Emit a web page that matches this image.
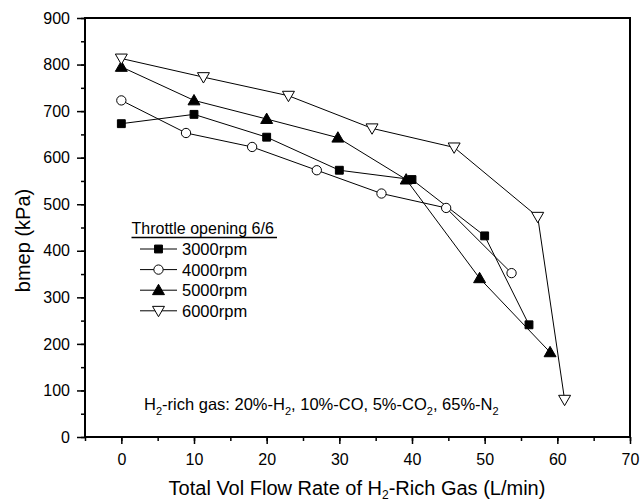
<!DOCTYPE html>
<html>
<head>
<meta charset="utf-8">
<script src="https://cdn.jsdelivr.net/npm/d3@7"></script>
<style>
  body { margin: 0; background: #fff; }
  svg text { font-family: "Liberation Sans", Arial, sans-serif; fill: #000; }
</style>
</head>
<body>
<svg id="chart" width="641" height="502"></svg>
<script>
const xTicks = [0, 10, 20, 30, 40, 50, 60, 70];
const yTicks = [0, 100, 200, 300, 400, 500, 600, 700, 800, 900];

const seriesNames = ["3000rpm", "4000rpm", "5000rpm", "6000rpm"];
const x3000 = [0, 10, 20, 30, 40, 50, 56.1];
const y3000 = [673, 693, 644, 573, 553, 432, 241];
const x4000 = [0, 8.9, 18, 26.9, 35.8, 44.7, 53.7];
const y4000 = [723, 653, 623, 573, 523, 492, 352];
const x5000 = [0, 10, 20, 29.8, 39.2, 49.3, 59];
const y5000 = [795, 723, 683, 643, 553, 341, 182];
const x6000 = [0, 11.3, 23, 34.5, 45.8, 57.3, 61];
const y6000 = [813, 773, 733, 663, 622, 473, 80];

const shapes = ["square", "circle", "triangle", "triangleDown"];

const d3s = window.d3;
const svg = d3s.select("#chart");
const W = 641, H = 502;
const margin = { top: 18, right: 11, bottom: 65, left: 85 };

const x = d3s.scaleLinear().domain([-5, 70]).range([margin.left, W - margin.right]);
const y = d3s.scaleLinear().domain([0, 900]).range([H - margin.bottom, margin.top]);

// minor ticks
svg.append("g")
  .attr("transform", `translate(0,${H - margin.bottom})`)
  .call(d3s.axisBottom(x).tickValues(d3s.range(-5, 71, 5)).tickSize(4).tickFormat(""))
  .call(g => g.select(".domain").remove());
svg.append("g")
  .attr("transform", `translate(${margin.left},0)`)
  .call(d3s.axisLeft(y).tickValues(d3s.range(0, 901, 50)).tickSize(4).tickFormat(""))
  .call(g => g.select(".domain").remove());

// major ticks
svg.append("g")
  .attr("transform", `translate(0,${H - margin.bottom})`)
  .call(d3s.axisBottom(x).tickValues(xTicks).tickSize(7).tickPadding(10))
  .call(g => g.select(".domain").remove())
  .call(g => g.selectAll("text").attr("font-size", 16));
svg.append("g")
  .attr("transform", `translate(${margin.left},0)`)
  .call(d3s.axisLeft(y).tickValues(yTicks).tickSize(8).tickPadding(7))
  .call(g => g.select(".domain").remove())
  .call(g => g.selectAll("text").attr("font-size", 16));

svg.selectAll(".tick line").attr("stroke", "#000").attr("stroke-width", 1.5);
svg.selectAll("g").attr("font-family", null);

// frame
svg.append("rect")
  .attr("x", margin.left).attr("y", margin.top)
  .attr("width", W - margin.left - margin.right)
  .attr("height", H - margin.top - margin.bottom)
  .attr("fill", "none").attr("stroke", "#000").attr("stroke-width", 2);

const symbolFor = {
  square: d3s.symbol().type(d3s.symbolSquare).size(62),
  circle: d3s.symbol().type(d3s.symbolCircle).size(68),
  triangle: d3s.symbol().type(d3s.symbolTriangle).size(62),
  triangleDown: d3s.symbol().type(d3s.symbolTriangle).size(62)
};
const filled = { square: true, circle: false, triangle: true, triangleDown: false };

function drawMarker(g, shape, cx, cy) {
  const p = g.append("path")
    .attr("d", symbolFor[shape]())
    .attr("fill", filled[shape] ? "#000" : "#fff")
    .attr("stroke", "#000")
    .attr("stroke-width", 1);
  const rot = shape === "triangleDown" ? " rotate(180)" : "";
  const dy = shape === "triangle" ? 1 : (shape === "triangleDown" ? -1 : 0);
  p.attr("transform", `translate(${cx},${cy + dy})${rot}`);
}

const allX = [x3000, x4000, x5000, x6000];
const allY = [y3000, y4000, y5000, y6000];
const line = d3s.line().x(d => x(d[0])).y(d => y(d[1]));

const gLines = svg.append("g");
allX.forEach((xs, i) => {
  const pts = xs.map((v, j) => [v, allY[i][j]]);
  gLines.append("path")
    .attr("d", line(pts))
    .attr("fill", "none")
    .attr("stroke", "#000")
    .attr("stroke-width", 1);
});
const gMarks = svg.append("g");
allX.forEach((xs, i) => {
  xs.forEach((v, j) => drawMarker(gMarks, shapes[i], x(v), y(allY[i][j])));
});

// legend
const lg = svg.append("g");
lg.append("text").attr("x", 131.5).attr("y", 234.3).attr("font-size", 16).text("Throttle opening 6/6");
lg.append("line").attr("x1", 131.5).attr("x2", 277).attr("y1", 237.5).attr("y2", 237.5)
  .attr("stroke", "#000").attr("stroke-width", 1.3);
seriesNames.forEach((name, i) => {
  const cy = 249 + i * 20.6;
  lg.append("line").attr("x1", 140).attr("x2", 177).attr("y1", cy).attr("y2", cy)
    .attr("stroke", "#000").attr("stroke-width", 1);
  drawMarker(lg, shapes[i], 158.5, cy);
  lg.append("text").attr("x", 182).attr("y", cy + 6).attr("font-size", 16.5).text(name);
});

// annotation
const ann = svg.append("text").attr("x", 144).attr("y", 410).attr("font-size", 16.5);
ann.append("tspan").text("H");
ann.append("tspan").attr("dy", 5).attr("font-size", 11).text("2");
ann.append("tspan").attr("dy", -5).text("-rich gas: 20%-H");
ann.append("tspan").attr("dy", 5).attr("font-size", 11).text("2");
ann.append("tspan").attr("dy", -5).text(", 10%-CO, 5%-CO");
ann.append("tspan").attr("dy", 5).attr("font-size", 11).text("2");
ann.append("tspan").attr("dy", -5).text(", 65%-N");
ann.append("tspan").attr("dy", 5).attr("font-size", 11).text("2");

// axis titles
const xt = svg.append("text").attr("x", 357).attr("y", 495).attr("text-anchor", "middle").attr("font-size", 20);
xt.append("tspan").text("Total Vol Flow Rate of H");
xt.append("tspan").attr("dy", 4).attr("font-size", 12).text("2");
xt.append("tspan").attr("dy", -4).text("-Rich Gas (L/min)");

svg.append("text")
  .attr("transform", "rotate(-90)")
  .attr("x", -240.5).attr("y", 29.5)
  .attr("text-anchor", "middle")
  .attr("font-size", 20)
  .text("bmep (kPa)");
</script>
</body>
</html>
